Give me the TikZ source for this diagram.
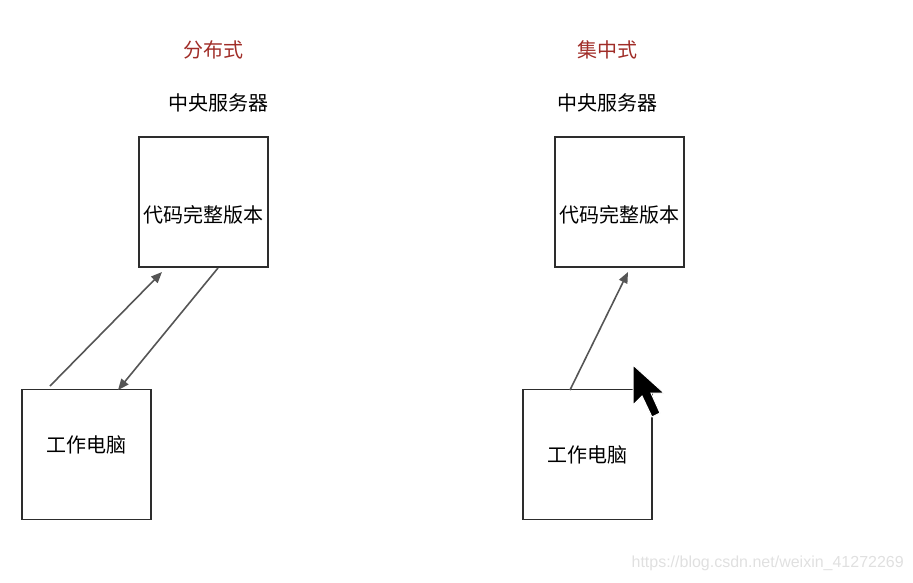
\documentclass[tikz,border=0pt]{standalone}
\usepackage{fontspec}
\setmainfont{Noto Sans CJK SC}
\newfontfamily\wmfont{Liberation Sans}
\usetikzlibrary{arrows.meta}

\definecolor{titlered}{RGB}{160,45,40}
\definecolor{boxline}{RGB}{45,45,45}
\definecolor{arrowgray}{RGB}{85,85,85}

\begin{document}
\begin{tikzpicture}[x=1pt,y=-1pt,
    box/.style={draw=boxline, line width=1.7pt, minimum width=129pt, minimum height=130pt, inner sep=0pt},
    label/.style={font=\fontsize{20}{23}\selectfont, inner sep=0pt},
    title/.style={label, text=titlered},
    link/.style={draw=arrowgray, line width=1.6pt, -{Triangle[length=11pt,width=9pt]}}]
    \useasboundingbox (0,0) rectangle (913,582);

    % distributed
    \node[title] (dtitle) at (213,50) {分布式};
    \node[label] (dname) at (218,103) {中央服务器};
    \node[box] (dserver) at (203.5,202) {};
    \node[label] (dcode) at (203.5,215) {代码完整版本};
    \node[box] (dpc) at (86.5,454.5) {};
    \node[label] (dwork) at (86.5,445) {工作电脑};
    \coordinate (dup1) at (50,386);
    \coordinate (dup2) at (162,272);
    \coordinate (ddn1) at (218,268);
    \coordinate (ddn2) at (118,390);
    \draw[link] (dup1) -- (dup2);
    \draw[link] (ddn1) -- (ddn2);

    % centralized
    \node[title] (ctitle) at (607,50) {集中式};
    \node[label] (cname) at (607,103) {中央服务器};
    \node[box] (cserver) at (619.5,202) {};
    \node[label] (ccode) at (619.5,215) {代码完整版本};
    \node[box] (cpc) at (587.5,454.5) {};
    \node[label] (cwork) at (587.5,455) {工作电脑};
    \coordinate (cup1) at (570,390);
    \coordinate (cup2) at (628,272);
    \draw[link] (cup1) -- (cup2);

    % cursor
    \fill[black, draw=white, line width=1pt] (633,365) -- (633,405) -- (642,396)
        -- (652,417) -- (660,413) -- (651,393) -- (664,393) -- cycle;

    % watermark
    \node[text=black!12, font=\wmfont\fontsize{16}{18}\selectfont, anchor=east, inner sep=0pt]
        (mark) at (904,563) {https://blog.csdn.net/weixin\_41272269};
\end{tikzpicture}
\end{document}
